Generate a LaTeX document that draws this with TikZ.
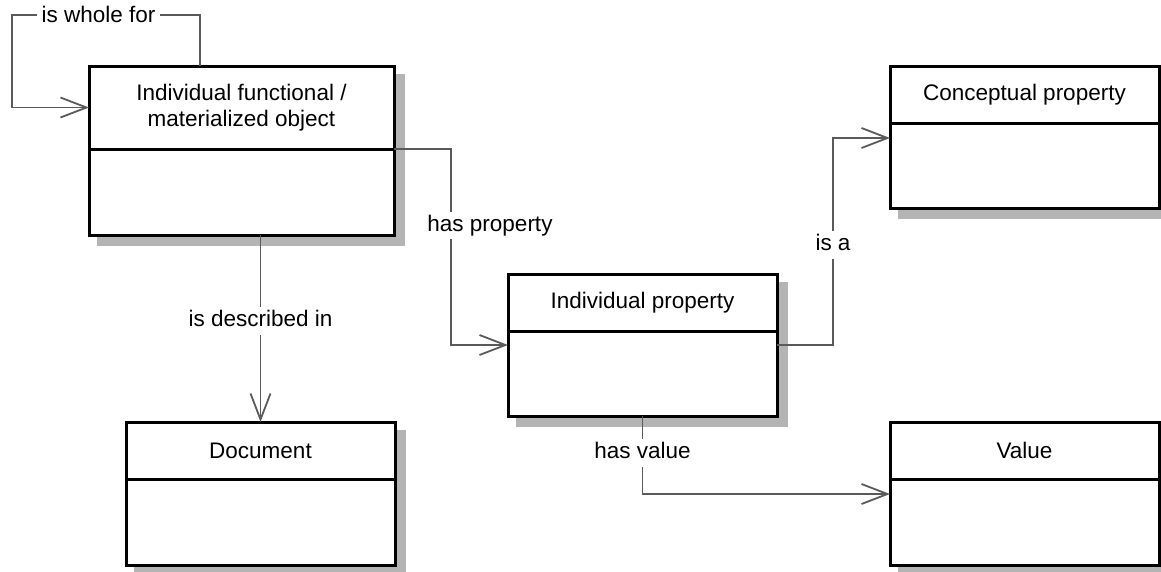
\documentclass[tikz,border=0pt]{standalone}
\usepackage{fontspec}
\setmainfont{Liberation Sans}
\usepackage{tikz}
\usepackage{xcolor}
\usetikzlibrary{positioning,shadows,arrows.meta}
\definecolor{linecolor}{HTML}{5a5a5a}
\definecolor{shadowcolor}{HTML}{b4b4b4}

\begin{document}
\begin{tikzpicture}[
        font = \fontsize{22.5pt}{26pt}\selectfont,
        head/.style = {draw, rectangle, fill = white, line width = 3pt, outer sep = 0pt, inner sep = 0pt, align = center, minimum width = 269pt, minimum height = 57pt, drop shadow = {shadow xshift = 9pt, shadow yshift = -9pt, opacity = 1, fill = shadowcolor, draw = shadowcolor, line width = 3pt}},
        body/.style = {head, minimum height = 85pt},
        assoc/.style = {draw = linecolor, line width = 1.8pt, -{Straight Barb[length = 26pt, width = 20pt]}},
        lbl/.style = {fill = white, inner xsep = 5pt, inner ysep = 3pt, text height = 16.5pt, text depth = 5pt, yshift = -2pt}
    ]

        \useasboundingbox (0pt, 0pt) rectangle (1161pt, -571pt);

        % Classes
        \node [head, minimum width = 305pt, minimum height = 83pt] (objh) at (241.5pt, -107.5pt) {Individual functional /\\materialized object};
        \node [body, minimum width = 305pt, minimum height = 86pt, below = 0pt of objh] (objb) {};

        \node [head] (cph) at (1024.5pt, -94.5pt) {Conceptual property};
        \node [body, below = 0pt of cph] (cpb) {};

        \node [head] (iph) at (642.5pt, -302.5pt) {Individual property};
        \node [body, below = 0pt of iph] (ipb) {};

        \node [head] (doch) at (260.5pt, -450.5pt) {Document};
        \node [body, minimum height = 86pt, below = 0pt of doch] (docb) {};

        \node [head] (valh) at (1024.5pt, -450.5pt) {Value};
        \node [body, minimum height = 86pt, below = 0pt of valh] (valb) {};

        % Associations
        \draw [assoc] (objh.north west) ++(111pt, 0pt) |- ++(-188pt, 51pt) node [lbl, pos = 0.77] (wholefor) {is whole for} |- (objh.west);
        \draw [assoc] (objb.north east) -- ++(57pt, 0pt) |- ([yshift = -14pt]ipb.north west) node [lbl, pos = 0.19, xshift = 39pt] (hasprop) {has property};
        \draw [assoc] ([yshift = -14pt]ipb.north east) -- ++(56pt, 0pt) |- ([yshift = -15pt]cpb.north west) node [lbl, pos = 0.246] (isa) {is a};
        \draw [assoc] (doch.north |- objb.south) -- (doch.north) node [lbl, pos = 0.45] (described) {is described in};
        \draw [assoc] (ipb.south) |- ([yshift = -15pt]valb.north west) node [lbl, pos = 0.224] (hasval) {has value};

    \end{tikzpicture}
\end{document}
